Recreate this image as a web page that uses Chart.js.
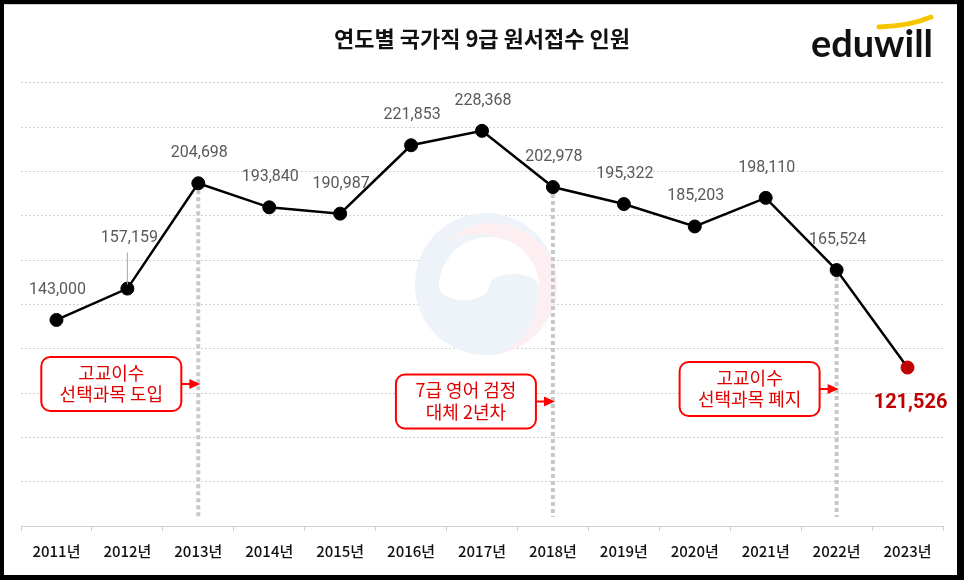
<!DOCTYPE html>
<html><head><meta charset="utf-8">
<script src="https://cdn.jsdelivr.net/npm/chart.js@4.4.1/dist/chart.umd.min.js"></script>
<style>
html,body{margin:0;padding:0;background:#fff;}
#wrap{position:relative;width:964px;height:580px;}
#frame{position:absolute;left:0;top:0;width:964px;height:580px;box-sizing:border-box;border-style:solid;border-color:#000;border-width:4px 7px 5px 4px;pointer-events:none;box-shadow:inset 0 1px 0 #cfcfcf;}
canvas{position:absolute;left:0;top:0;}
</style></head>
<body><div id="wrap"><canvas id="c" width="964" height="580"></canvas><div id="frame"></div></div>
<script>
const years = ['2011년','2012년','2013년','2014년','2015년','2016년','2017년','2018년','2019년','2020년','2021년','2022년','2023년'];
const applicants = [143000,157159,204698,193840,190987,221853,228368,202978,195322,185203,198110,165524,121526];
const titleText = '연도별 국가직 9급 원서접수 인원';
const noteYears = ['2013년','2018년','2022년'];
const noteLines = [['고교이수','선택과목 도입'],['7급 영어 검정','대체 2년차'],['고교이수','선택과목 폐지']];

const KR = "'Noto Sans CJK KR','Noto Sans',sans-serif";
const NUM = "Roboto,'Noto Sans CJK KR',sans-serif";
const lastIdx = applicants.length - 1;

const watermark = {
  id:'watermark',
  beforeDatasetsDraw(chart){
    const ctx = chart.ctx; ctx.save();
    const cx = 486, cy = 284;
    const blue = '#eef3f9', pink = '#fdeef1';
    ctx.fillStyle = blue;
    ctx.beginPath(); ctx.arc(cx,cy,71,0,Math.PI*2); ctx.fill();
    ctx.save();
    ctx.beginPath(); ctx.arc(cx,cy,71,0,Math.PI*2); ctx.clip();
    ctx.fillStyle = pink;
    ctx.beginPath(); ctx.arc(cx+6,cy+5,66,0,Math.PI*2); ctx.fill();
    ctx.fillStyle = blue;
    ctx.beginPath(); ctx.arc(cx-10,cy+12,62,0,Math.PI*2); ctx.fill();
    ctx.restore();
    // white swirl
    const wx = cx+3, wy = cy+3;
    ctx.fillStyle = '#ffffff';
    ctx.beginPath();
    ctx.moveTo(wx-50,wy);
    ctx.arc(wx,wy,50,Math.PI,Math.PI*2,false);
    ctx.ellipse(wx+25,wy,25,13,0,0,Math.PI,true);
    ctx.ellipse(wx-25,wy,25,13,0,0,Math.PI,false);
    ctx.closePath(); ctx.fill();
    ctx.restore();
  }
};

const guides = {
  id:'guides',
  beforeDatasetsDraw(chart){
    const ctx = chart.ctx, xs = chart.scales.x, ys = chart.scales.y;
    ctx.save();
    ctx.strokeStyle = '#c8c8c8'; ctx.lineWidth = 4; ctx.setLineDash([4,3]);
    noteYears.forEach(yr=>{
      const i = years.indexOf(yr);
      const x = xs.getPixelForValue(i), y = ys.getPixelForValue(applicants[i]);
      ctx.beginPath(); ctx.moveTo(x,y); ctx.lineTo(x,ys.getPixelForValue(ys.min)-9); ctx.stroke();
    });
    ctx.restore();
  }
};

function rr(ctx,x,y,w,h,r){
  ctx.beginPath();
  ctx.moveTo(x+r,y); ctx.lineTo(x+w-r,y); ctx.arcTo(x+w,y,x+w,y+r,r);
  ctx.lineTo(x+w,y+h-r); ctx.arcTo(x+w,y+h,x+w-r,y+h,r);
  ctx.lineTo(x+r,y+h); ctx.arcTo(x,y+h,x,y+h-r,r);
  ctx.lineTo(x,y+r); ctx.arcTo(x,y,x+r,y,r); ctx.closePath();
}

const decor = {
  id:'decor',
  afterDatasetsDraw(chart){
    const ctx = chart.ctx, xs = chart.scales.x, ys = chart.scales.y;
    ctx.save();
    ctx.textAlign = 'center'; ctx.textBaseline = 'middle';
    applicants.forEach((v,i)=>{
      const x = xs.getPixelForValue(i), y = ys.getPixelForValue(v);
      const txt = v.toLocaleString('en-US');
      if(i===lastIdx){
        ctx.font = "bold 20px "+NUM; ctx.fillStyle = '#c00000';
        ctx.fillText(txt, x+3, y+35);
      } else if(i===1){
        ctx.strokeStyle = '#a6a6a6'; ctx.lineWidth = 1;
        ctx.beginPath(); ctx.moveTo(x,y-36); ctx.lineTo(x,y-4); ctx.stroke();
        ctx.font = "16px "+NUM; ctx.fillStyle = '#595959';
        ctx.fillText(txt, x+2, y-51);
      } else {
        ctx.font = "16px "+NUM; ctx.fillStyle = '#595959';
        ctx.fillText(txt, x+1, y-30);
      }
    });
    const boxCy = [384, 401.5, 389];
    noteYears.forEach((yr,k)=>{
      const i = years.indexOf(yr);
      const gx = xs.getPixelForValue(i);
      const w = 140, h = 54, right = gx-17, left = right-w, cy = boxCy[k];
      ctx.fillStyle = '#ffffff'; ctx.strokeStyle = '#ff0000'; ctx.lineWidth = 2;
      rr(ctx,left,cy-h/2,w,h,9); ctx.fill(); ctx.stroke();
      ctx.beginPath(); ctx.moveTo(right,cy); ctx.lineTo(gx-7,cy); ctx.stroke();
      ctx.fillStyle = '#ff0000';
      ctx.beginPath(); ctx.moveTo(gx+2,cy); ctx.lineTo(gx-9,cy-5); ctx.lineTo(gx-9,cy+5); ctx.closePath(); ctx.fill();
      ctx.font = "18px "+KR; ctx.fillStyle = '#e00000';
      ctx.fillText(noteLines[k][0], left+w/2, cy-11);
      ctx.fillText(noteLines[k][1], left+w/2, cy+10.5);
    });
    ctx.restore();
  },
  afterDraw(chart){
    const ctx = chart.ctx; ctx.save();
    ctx.strokeStyle = '#f7c500'; ctx.lineCap = 'round';
    ctx.lineWidth = 5;
    ctx.beginPath(); ctx.moveTo(879,27); ctx.quadraticCurveTo(910,26,931,17); ctx.stroke();
    ctx.font = "bold 38px Lato,'Open Sans',sans-serif";
    ctx.fillStyle = '#111'; ctx.textAlign = 'left'; ctx.textBaseline = 'alphabetic';
    const w = ctx.measureText('eduwill').width;
    ctx.save(); ctx.translate(811,57); ctx.scale(122/w,1); ctx.fillText('eduwill',0,0); ctx.restore();
    ctx.restore();
  }
};

new Chart(document.getElementById('c'),{
  type:'line',
  data:{labels:years,datasets:[{
    data:applicants,
    borderColor:'#000',borderWidth:2.5,tension:0,
    pointRadius:6.5,pointHoverRadius:6.5,
    pointBackgroundColor:applicants.map((v,i)=>i===lastIdx?'#c00000':'#000'),
    pointBorderColor:applicants.map((v,i)=>i===lastIdx?'#c00000':'#000'),
    pointBorderWidth:1
  }]},
  options:{
    responsive:false,animation:false,
    layout:{padding:{left:21,right:21,top:0,bottom:0}},
    plugins:{
      legend:{display:false},tooltip:{enabled:false},
      title:{display:true,text:titleText,color:'#111',
        font:{family:KR,size:22,weight:'bold',lineHeight:1.2},
        padding:{top:25,bottom:31.5}}
    },
    scales:{
      x:{offset:true,
        grid:{offset:true,drawOnChartArea:false,drawTicks:true,tickLength:5,color:'#d0d0d0'},
        border:{display:true,color:'#d0d0d0',width:1},
        ticks:{color:'#111',font:{family:KR,size:15,weight:'500'},padding:11,maxRotation:0,autoSkip:false},
        afterFit:s=>{s.height=54;}
      },
      y:{min:50000,max:250000,
        ticks:{display:false,stepSize:20000},
        grid:{color:'#d0d0d0',lineWidth:1,drawTicks:false},
        border:{display:false,dash:[2,2]},
        afterFit:s=>{s.width=0;}
      }
    }
  },
  plugins:[watermark,guides,decor]
});
</script></body></html>
